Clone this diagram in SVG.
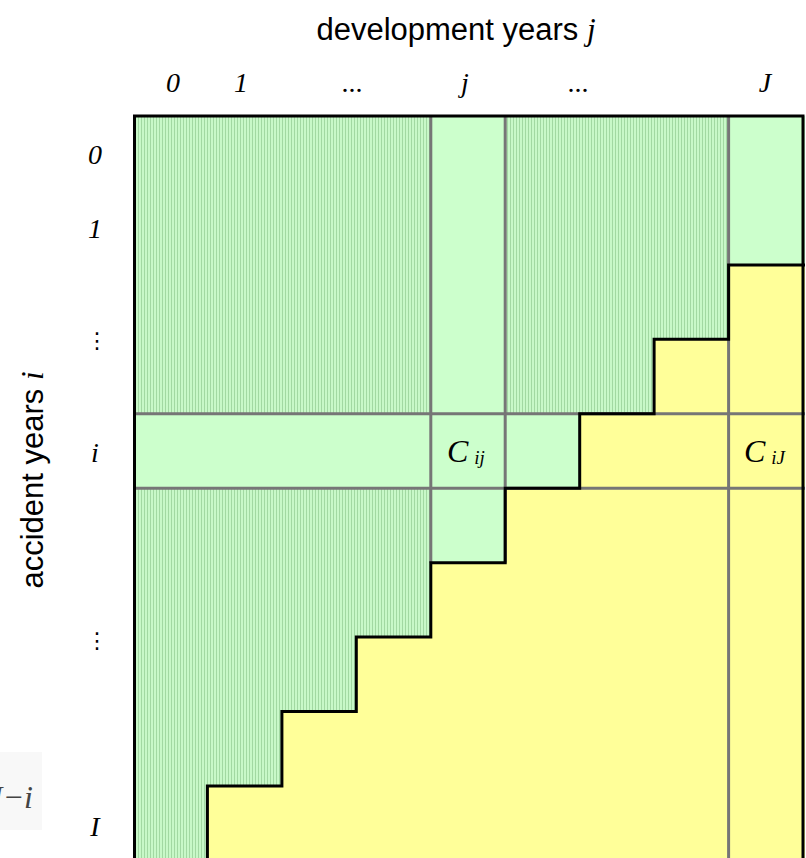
<svg xmlns="http://www.w3.org/2000/svg" width="806" height="858" viewBox="0 0 806 858">
<style>
.lbl{font-family:"Liberation Serif","Times New Roman",serif;font-style:italic;font-size:28px;fill:#000;text-anchor:middle}
.sans{font-family:"Liberation Sans",Arial,sans-serif;font-size:31px;fill:#000;text-anchor:middle}
.dots{font-family:"DejaVu Sans",sans-serif;font-size:22px;fill:#000;text-anchor:middle}
.grid{stroke:#767676;stroke-width:3;fill:none}
.stair{stroke:#000;stroke-width:3;fill:none;stroke-linejoin:miter}
.plain{fill:#ccffcc}
.cellC{font-family:"Liberation Serif","Times New Roman",serif;font-style:italic;font-size:32px;fill:#000}
.sub{font-size:19px}
</style>
<defs>
<pattern id="tex" width="3" height="3" patternUnits="userSpaceOnUse">
<rect width="3" height="3" fill="#c8f8c8"/>
<rect x="0" y="0" width="1" height="3" fill="#a2d8a2"/>
</pattern>
</defs>
<rect width="806" height="858" fill="#ffffff"/>
<rect x="0" y="752" width="42" height="78" fill="#f8f8f8"/>
<g id="cells">
<rect id="observed-area" x="133" y="116" width="672" height="760" fill="url(#tex)"/>
<rect id="col-j" class="plain" x="430.8" y="116" width="74.4" height="446.7"/>
<rect id="row-i" class="plain" x="133" y="413.8" width="446.7" height="74.4"/>
<rect id="col-J" class="plain" x="728.6" y="116" width="76" height="148.9"/>
<polygon id="future-area" fill="#ffff99" points="805,264.9 728.6,264.9 728.6,339.3 654.1,339.3 654.1,413.8 579.7,413.8 579.7,488.2 505.2,488.2 505.2,562.7 430.8,562.7 430.8,637.1 356.3,637.1 356.3,711.6 281.9,711.6 281.9,786 207.4,786 207.4,870 805,870"/>
</g>
<g id="connectors">
<line class="grid" x1="430.8" y1="116" x2="430.8" y2="562.7"/>
<line class="grid" x1="505.2" y1="116" x2="505.2" y2="562.7"/>
<line class="grid" x1="728.6" y1="116" x2="728.6" y2="870"/>
<line class="grid" x1="133" y1="413.8" x2="805" y2="413.8"/>
<line class="grid" x1="133" y1="488.2" x2="805" y2="488.2"/>
<polyline class="stair" points="805,264.9 728.6,264.9 728.6,339.3 654.1,339.3 654.1,413.8 579.7,413.8 579.7,488.2 505.2,488.2 505.2,562.7 430.8,562.7 430.8,637.1 356.3,637.1 356.3,711.6 281.9,711.6 281.9,786 207.4,786 207.4,870"/>
<rect x="134.5" y="116" width="668.5" height="760" fill="none" stroke="#000" stroke-width="3"/>
</g>
<g id="cell-Cij"><text class="cellC" x="447" y="462">C<tspan class="sub" dx="6" dy="2">ij</tspan></text></g>
<g id="cell-CiJ"><text class="cellC" x="744" y="462">C<tspan class="sub" dx="6" dy="2">iJ</tspan></text></g>
<g id="axis-top">
<text class="sans" x="456" y="40">development years <tspan font-family="Liberation Serif,serif" font-style="italic">j</tspan></text>
<text class="lbl" x="173" y="92">0</text>
<text class="lbl" x="241" y="92">1</text>
<text class="lbl" x="352" y="92" style="font-style:normal">...</text>
<text class="lbl" x="465" y="92">j</text>
<text class="lbl" x="578" y="92" style="font-style:normal">...</text>
<text class="lbl" x="765" y="92">J</text>
</g>
<g id="axis-left">
<text class="sans" transform="translate(43,480) rotate(-90)">accident years <tspan font-family="Liberation Serif,serif" font-style="italic">i</tspan></text>
<text class="lbl" x="95" y="164">0</text>
<text class="lbl" x="95" y="238">1</text>
<text class="dots" x="97" y="348">⋮</text>
<text class="lbl" x="95" y="462">i</text>
<text class="dots" x="97" y="648">⋮</text>
<text class="lbl" x="95" y="836">I</text>
<text x="33" y="808" font-family="Liberation Serif,serif" font-style="italic" font-size="32" fill="#444" text-anchor="end">J−i</text>
</g>
</svg>
